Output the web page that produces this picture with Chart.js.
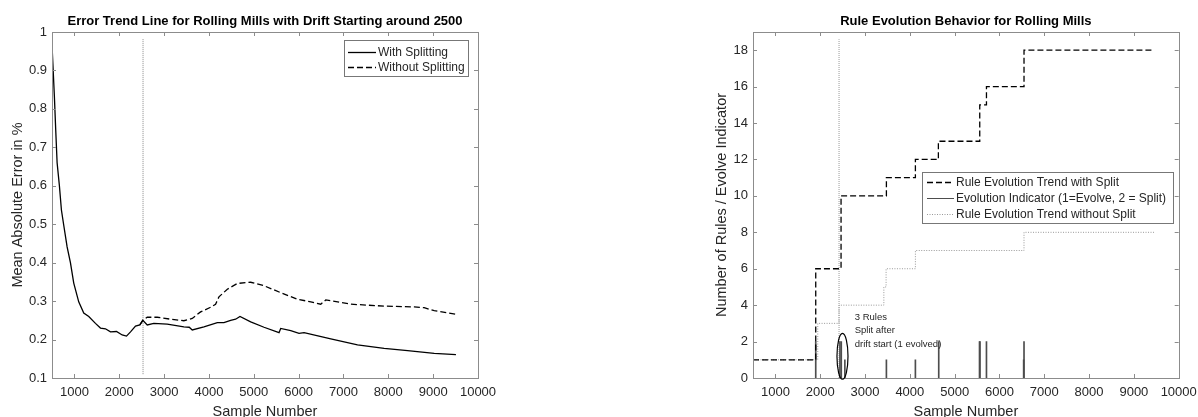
<!DOCTYPE html>
<html>
<head>
<meta charset="utf-8">
<script src="https://cdn.jsdelivr.net/npm/chart.js@4.4.1/dist/chart.umd.min.js"></script>
<style>
html, body { margin: 0; padding: 0; background: #fff; }
#wrap { position: relative; width: 1198px; height: 417px; }
canvas { position: absolute; top: 0; }
#graficoError { left: 0; }
#graficoReglas { left: 600px; }
</style>
</head>
<body>
<div id="wrap">
  <canvas id="graficoError" width="600" height="417"></canvas>
  <canvas id="graficoReglas" width="598" height="417"></canvas>
</div>
<script>
// --- left chart: error trend ---
const muestrasCon = [500, 554, 583, 614, 665, 710, 761, 837, 911, 985, 1096, 1208, 1320, 1469, 1581, 1692, 1804, 1938, 2065, 2161, 2251, 2362, 2459, 2526, 2624, 2771, 3070, 3441, 3560, 3628, 3888, 4187, 4334, 4484, 4595, 4692, 4931, 5228, 5563, 5600, 5824, 6009, 6121, 6717, 7313, 7907, 8430, 9024, 9508];
const errorCon = [0.966, 0.83, 0.745, 0.66, 0.60, 0.537, 0.498, 0.441, 0.40, 0.347, 0.298, 0.269, 0.26, 0.242, 0.23, 0.228, 0.22, 0.221, 0.212, 0.209, 0.22, 0.235, 0.238, 0.25, 0.238, 0.242, 0.24, 0.233, 0.232, 0.225, 0.233, 0.244, 0.244, 0.25, 0.253, 0.26, 0.246, 0.232, 0.218, 0.229, 0.223, 0.216, 0.218, 0.202, 0.186, 0.177, 0.171, 0.164, 0.161];
const muestrasSin = [2459, 2526, 2624, 2847, 3144, 3441, 3628, 3814, 4037, 4148, 4223, 4410, 4633, 4931, 5228, 5600, 5973, 6271, 6494, 6605, 7163, 7907, 8577, 8800, 9024, 9508];
const errorSin = [0.238, 0.25, 0.258, 0.258, 0.253, 0.249, 0.255, 0.272, 0.284, 0.292, 0.311, 0.331, 0.346, 0.349, 0.34, 0.322, 0.305, 0.298, 0.292, 0.303, 0.292, 0.287, 0.285, 0.283, 0.275, 0.266];
const derivaIzqX = [2530, 2530];
const derivaIzqY = [0.11, 0.982];

// --- right chart: rule evolution ---
const muestrasSplit = [500, 1900, 2465, 3477, 4124, 4637, 5560, 5710, 6548, 9450];
const reglasSplit = [1, 6, 10, 11, 12, 13, 15, 16, 18, 18];
const muestrasNoSplit = [500, 1945, 2420, 3420, 3470, 4124, 6548, 9450];
const reglasNoSplit = [1, 3, 4, 5, 6, 7, 8, 8];
const muestrasIndicador = [1900, 2440, 2470, 2550, 3477, 4124, 4645, 5555, 5565, 5710, 6540, 6548];
const valoresIndicador = [2, 2, 2, 1, 1, 1, 2, 2, 2, 2, 1, 2];
const derivaDerX = [2420, 2420];
const derivaDerY = [0, 18.6];
const elipse = { x: 2497, y: 1.19, rx: 123, ry: 1.26 };
const notaTexto = ['3 Rules', 'Split after', 'drift start (1 evolved)'];
const notaPos = { x: 2770, y: 3.34 };

const ticksX = [1000, 2000, 3000, 4000, 5000, 6000, 7000, 8000, 9000, 10000];

const aPuntos = (xs, ys) => xs.map((x, i) => ({ x: x, y: ys[i] }));

Chart.defaults.font.family = '"Liberation Sans", Arial, sans-serif';
Chart.defaults.color = '#262626';

const ejesMatlab = {
    id: 'ejesMatlab',
    afterDatasetsDraw(chart) {
        const { ctx, chartArea: a, scales } = chart;
        ctx.save();
        ctx.strokeStyle = '#8c8c8c';
        ctx.lineWidth = 1;
        ctx.setLineDash([]);
        ctx.strokeRect(Math.round(a.left) + 0.5, Math.round(a.top) + 0.5, Math.round(a.width), Math.round(a.height));
        ctx.beginPath();
        scales.x.ticks.forEach(t => {
            const px = Math.round(scales.x.getPixelForValue(t.value)) + 0.5;
            ctx.moveTo(px, a.bottom); ctx.lineTo(px, a.bottom - 4);
            ctx.moveTo(px, a.top); ctx.lineTo(px, a.top + 4);
        });
        scales.y.ticks.forEach(t => {
            const py = Math.round(scales.y.getPixelForValue(t.value)) + 0.5;
            ctx.moveTo(a.left, py); ctx.lineTo(a.left + 4, py);
            ctx.moveTo(a.right, py); ctx.lineTo(a.right - 4, py);
        });
        ctx.stroke();
        ctx.restore();
    },
    afterDraw(chart, args, opts) {
        const caja = opts.caja;
        if (!caja) return;
        const ctx = chart.ctx;
        ctx.save();
        ctx.fillStyle = '#fff';
        ctx.fillRect(caja.x, caja.y, caja.w, caja.h);
        ctx.strokeStyle = '#777';
        ctx.lineWidth = 1;
        ctx.strokeRect(caja.x + 0.5, caja.y + 0.5, caja.w, caja.h);
        ctx.font = '12px "Liberation Sans", Arial, sans-serif';
        ctx.textBaseline = 'middle';
        ctx.fillStyle = '#262626';
        caja.filas.forEach((fila, i) => {
            const ds = chart.data.datasets[fila];
            const y = Math.round(caja.y0 + i * caja.paso) + 0.5;
            ctx.beginPath();
            ctx.strokeStyle = ds.type === 'bar' ? ds.backgroundColor : ds.borderColor;
            ctx.lineWidth = ds.type === 'bar' ? 1 : ds.borderWidth;
            ctx.setLineDash(ds.borderDash || []);
            ctx.moveTo(caja.m0, y);
            ctx.lineTo(caja.m1, y);
            ctx.stroke();
            ctx.fillText(ds.label, caja.t, y);
        });
        ctx.restore();
    }
};

const notas = {
    id: 'notas',
    afterDatasetsDraw(chart, args, opts) {
        if (!opts.activo) return;
        const { ctx, scales: { x, y } } = chart;
        ctx.save();
        const cx = x.getPixelForValue(elipse.x);
        const cy = y.getPixelForValue(elipse.y);
        const rx = Math.abs(x.getPixelForValue(elipse.x + elipse.rx) - cx);
        const ry = Math.abs(y.getPixelForValue(elipse.y + elipse.ry) - cy);
        ctx.beginPath();
        ctx.strokeStyle = '#000';
        ctx.lineWidth = 1.2;
        ctx.ellipse(cx, cy, rx, ry, 0, 0, Math.PI * 2);
        ctx.stroke();
        ctx.font = '9.5px "Liberation Sans", Arial, sans-serif';
        ctx.fillStyle = '#262626';
        ctx.textBaseline = 'middle';
        const tx = x.getPixelForValue(notaPos.x);
        const ty = y.getPixelForValue(notaPos.y);
        notaTexto.forEach((linea, i) => ctx.fillText(linea, tx, ty + i * 13.5));
        ctx.restore();
    }
};

function ejeX(alto) {
    return {
        type: 'linear', min: 500, max: 10000, offset: false,
        afterBuildTicks: s => { s.ticks = ticksX.map(v => ({ value: v })); },
        afterFit: s => { s.height = alto; s.paddingLeft = 0; s.paddingRight = 0; },
        grid: { display: false, drawTicks: false },
        border: { display: false },
        ticks: { padding: 7, font: { size: 13 }, color: '#262626', maxRotation: 0, autoSkip: false, callback: v => String(v) },
        title: { display: true, text: 'Sample Number', font: { size: 14.5, lineHeight: 1 }, color: '#262626', padding: { top: 0, bottom: -2 } }
    };
}

new Chart(document.getElementById('graficoError'), {
    type: 'line',
    data: {
        datasets: [
            { label: 'With Splitting', data: aPuntos(muestrasCon, errorCon), borderColor: '#000', borderWidth: 1.3, pointRadius: 0, tension: 0, fill: false },
            { label: 'Without Splitting', data: aPuntos(muestrasSin, errorSin), borderColor: '#000', borderWidth: 1.3, borderDash: [6, 3], pointRadius: 0, tension: 0, fill: false },
            { label: 'drift', data: aPuntos(derivaIzqX, derivaIzqY), borderColor: '#888', borderWidth: 1, borderDash: [1, 1], pointRadius: 0, fill: false }
        ]
    },
    options: {
        responsive: false,
        animation: false,
        events: [],
        layout: { padding: { left: 0, right: 122, top: 0, bottom: 0 } },
        scales: {
            x: ejeX(39),
            y: {
                type: 'linear', min: 0.1, max: 1,
                ticks: { stepSize: 0.1, padding: 5, font: { size: 13 }, color: '#262626', callback: v => String(+v.toFixed(1)) },
                afterFit: s => { s.width = 52; },
                grid: { display: false, drawTicks: false },
                border: { display: false },
                title: { display: true, text: 'Mean Absolute Error in %', font: { size: 14.5, lineHeight: 1 }, color: '#262626', padding: { top: 10.3, bottom: 0 } }
            }
        },
        plugins: {
            legend: { display: false },
            tooltip: { enabled: false },
            title: { display: true, fullSize: false, text: 'Error Trend Line for Rolling Mills with Drift Starting around 2500', color: '#000', font: { size: 13, weight: 'bold' }, padding: { top: 14, bottom: 2.4 } },
            ejesMatlab: { caja: { x: 344, y: 40, w: 124, h: 36, filas: [0, 1], y0: 51.7, paso: 15.6, m0: 348, m1: 376, t: 378 } },
            notas: { activo: false }
        }
    },
    plugins: [ejesMatlab, notas]
});

new Chart(document.getElementById('graficoReglas'), {
    type: 'line',
    data: {
        datasets: [
            { label: 'Rule Evolution Trend with Split', data: aPuntos(muestrasSplit, reglasSplit), stepped: true, borderColor: '#000', borderWidth: 1.3, borderDash: [6, 3], pointRadius: 0, fill: false },
            { type: 'bar', label: 'Evolution Indicator (1=Evolve, 2 = Split)', data: aPuntos(muestrasIndicador, valoresIndicador), backgroundColor: '#4d4d4d', barThickness: 1, borderWidth: 0 },
            { label: 'Rule Evolution Trend without Split', data: aPuntos(muestrasNoSplit, reglasNoSplit), stepped: true, borderColor: '#999', borderWidth: 1, borderDash: [1, 1.5], pointRadius: 0, fill: false },
            { label: 'drift', data: aPuntos(derivaDerX, derivaDerY), borderColor: '#999', borderWidth: 1, borderDash: [1, 1], pointRadius: 0, fill: false }
        ]
    },
    options: {
        responsive: false,
        animation: false,
        events: [],
        layout: { padding: { left: 104, right: 19.3, top: 0, bottom: 0 } },
        scales: {
            x: ejeX(39),
            y: {
                type: 'linear', min: 0, max: 19,
                ticks: { stepSize: 2, includeBounds: false, padding: 5, font: { size: 13 }, color: '#262626' },
                afterFit: s => { s.width = 49; },
                grid: { display: false, drawTicks: false },
                border: { display: false },
                title: { display: true, text: 'Number of Rules / Evolve Indicator', font: { size: 14.5, lineHeight: 1 }, color: '#262626', padding: { top: 10.3, bottom: 0 } }
            }
        },
        plugins: {
            legend: { display: false },
            tooltip: { enabled: false },
            title: { display: true, fullSize: false, text: 'Rule Evolution Behavior for Rolling Mills', color: '#000', font: { size: 13, weight: 'bold' }, padding: { top: 14, bottom: 2.4 } },
            ejesMatlab: { caja: { x: 322, y: 172, w: 251, h: 51, filas: [0, 1, 2], y0: 182.3, paso: 16, m0: 327, m1: 354, t: 356 } },
            notas: { activo: true }
        }
    },
    plugins: [ejesMatlab, notas]
});
</script>
</body>
</html>
